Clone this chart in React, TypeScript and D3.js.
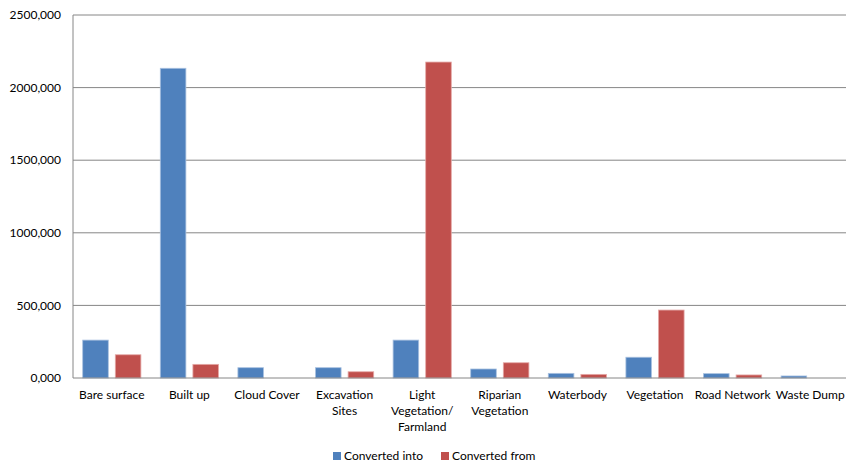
import React from "react";
import * as d3 from "d3";

const categories: string[][] = [
  ["Bare surface"],
  ["Built up"],
  ["Cloud Cover"],
  ["Excavation", "Sites"],
  ["Light", "Vegetation/", "Farmland"],
  ["Riparian", "Vegetation"],
  ["Waterbody"],
  ["Vegetation"],
  ["Road Network"],
  ["Waste Dump"],
];
const convertedInto = [261000, 2133000, 71000, 71000, 261000, 62000, 32000, 143000, 30000, 14000];
const convertedFrom = [160000, 94000, 0, 43000, 2176000, 105000, 25000, 468000, 21000, 0];
const seriesNames = ["Converted into", "Converted from"];
const seriesColors = ["#4F81BD", "#C0504D"];
const tickValues = [0, 500000, 1000000, 1500000, 2000000, 2500000];
const tickLabels = ["0,000", "500,000", "1000,000", "1500,000", "2000,000", "2500,000"];

const W = 846;
const H = 463;
const left = 73;
const right = 849;
const top = 15;
const bottom = 378;
const FONT = "Lato, 'Open Sans', sans-serif";

export default function App() {
  const x = d3.scaleBand<number>().domain(d3.range(categories.length)).range([left, right]).padding(0);
  const bw = x.bandwidth();
  const pad = bw * 0.125;
  const xi = d3.scaleBand<number>().domain([0, 1]).range([pad, bw - pad]).paddingInner(0.215);
  const y = d3.scaleLinear().domain([0, 2500000]).range([bottom, top]);
  const series = [convertedInto, convertedFrom];

  return (
    <svg width={W} height={H} style={{ position: "absolute", left: 0, top: 0, background: "#fff" }} fontFamily={FONT}>
      {tickValues.map((t, i) => (
        <g key={t}>
          {i > 0 && <line x1={left} x2={W} y1={y(t)} y2={y(t)} stroke="#868686" strokeWidth={1} />}
          <text x={61} y={y(t)} dy="0.35em" textAnchor="end" fontSize={12} fill="#000">
            {tickLabels[i]}
          </text>
        </g>
      ))}
      {series.map((vals, s) =>
        vals.map((v, i) => {
          const bx = (x(i) as number) + (xi(s) as number);
          const h = bottom - y(v);
          return h > 0 ? (
            <rect
              key={`${s}-${i}`}
              x={bx}
              y={y(v)}
              width={xi.bandwidth()}
              height={h}
              fill={seriesColors[s]}
              stroke={s === 0 ? "#A9C1E0" : "#E5A9A7"}
              strokeWidth={0.8}
            />
          ) : null;
        })
      )}
      <line x1={left} x2={left} y1={top} y2={bottom} stroke="#868686" />
      <line x1={left} x2={W} y1={bottom} y2={bottom} stroke="#868686" />
      {categories.map((lines, i) => (
        <text key={i} textAnchor="middle" fontSize={12} fill="#000">
          {lines.map((ln, j) => (
            <tspan key={j} x={(x(i) as number) + bw / 2} y={399 + j * 16}>
              {ln}
            </tspan>
          ))}
        </text>
      ))}
      {seriesNames.map((n, s) => {
        const lx = s === 0 ? 333 : 441;
        return (
          <g key={n}>
            <rect x={lx} y={452} width={8} height={8} fill={seriesColors[s]} />
            <text x={lx + 11} y={460} fontSize={12} fill="#000">
              {n}
            </text>
          </g>
        );
      })}
    </svg>
  );
}
